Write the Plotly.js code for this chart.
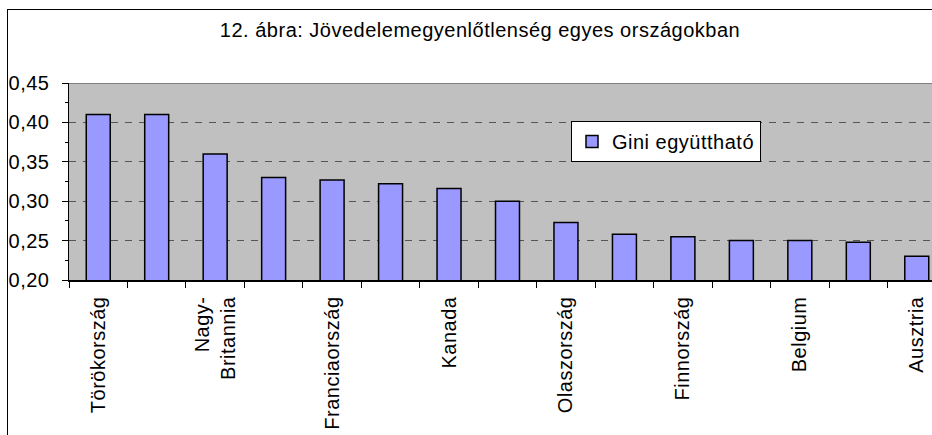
<!DOCTYPE html>
<html>
<head>
<meta charset="utf-8">
<script src="https://cdn.plot.ly/plotly-3.0.1.min.js"></script>
<style>
  html, body { margin: 0; padding: 0; background: #fff; overflow: hidden; width: 932px; height: 435px; }
  #chart { position: absolute; left: 0; top: 0; width: 950px; height: 435px; }
  #frame { position: absolute; left: 7px; top: 9px; width: 1000px; height: 1000px;
           border-left: 1px solid #000; border-top: 1.5px solid #000; pointer-events: none; }
  text { letter-spacing: 0.5px; }
</style>
</head>
<body>
<div id="chart"></div>
<div id="frame"></div>
<script>
// Data
const countryLabels = ['Törökország', '', 'Nagy-<br>Britannia', '', 'Franciaország', '', 'Kanada', '',
                       'Olaszország', '', 'Finnország', '', 'Belgium', '', 'Ausztria'];
const giniValues = [0.41, 0.41, 0.36, 0.33, 0.327, 0.322, 0.316, 0.30, 0.273, 0.258, 0.255, 0.25, 0.25, 0.248, 0.23];
const seriesName = 'Gini együttható';
const chartTitle = '12. ábra: Jövedelemegyenlőtlenség egyes országokban';

const xPos = giniValues.map((_, i) => i + 1);
const tickVals = [], tickText = [];
countryLabels.forEach((c, i) => { if (c) { tickVals.push(i + 1); tickText.push(c); } });

const FONT = 'Arial, "Liberation Sans", sans-serif';

const trace = {
  type: 'bar',
  x: xPos,
  y: giniValues,
  name: seriesName,
  showlegend: true,
  marker: { color: '#9999FF', line: { color: '#000000', width: 1.5 } },
  hoverinfo: 'skip'
};

const layout = {
  width: 950, height: 435,
  margin: { l: 69, r: 4, t: 83, b: 155 },
  paper_bgcolor: '#FFFFFF',
  plot_bgcolor: '#C0C0C0',
  separators: ', ',
  font: { family: FONT, size: 20, color: '#000' },
  title: {
    text: chartTitle,
    font: { family: FONT, size: 20, color: '#000' },
    x: 480 / 950, xref: 'container', xanchor: 'center',
    y: 1 - 30 / 435, yref: 'container', yanchor: 'middle'
  },
  bargap: 0.59,
  showlegend: true,
  legend: {
    x: (571 - 69) / 877, y: (280 - 121) / 197, xanchor: 'left', yanchor: 'top',
    bgcolor: '#FFFFFF', bordercolor: '#000000', borderwidth: 1,
    font: { family: FONT, size: 20, color: '#000' }
  },
  xaxis: {
    range: [0.5, giniValues.length + 0.5],
    tickmode: 'array', tickvals: tickVals, ticktext: tickText,
    tickangle: -90, ticks: '', ticklabelstandoff: 7,
    showline: true, linecolor: '#000', linewidth: 1.5,
    showgrid: false, zeroline: false,
    minor: { tickmode: 'linear', tick0: 0.5, dtick: 1, ticks: 'outside', ticklen: 6, tickcolor: '#000', tickwidth: 1, showgrid: false },
    tickfont: { family: FONT, size: 20, color: '#000' },
    fixedrange: true
  },
  yaxis: {
    range: [0.20, 0.45], dtick: 0.05, tick0: 0.20, tickformat: '.2f',
    ticks: 'outside', ticklen: 6, tickcolor: '#000', tickwidth: 1, ticklabelstandoff: 8,
    showline: true, linecolor: '#000', linewidth: 1.5,
    showgrid: true, gridcolor: '#555555', gridwidth: 1, griddash: '7px,7px',
    zeroline: false,
    minor: { dtick: 0.025, ticks: 'outside', ticklen: 3, tickcolor: '#000', showgrid: false },
    tickfont: { family: FONT, size: 20, color: '#000' },
    fixedrange: true
  },
  shapes: [{
    type: 'line', xref: 'paper', yref: 'y', x0: 0, x1: 1, y0: 0.45, y1: 0.45,
    line: { color: '#808080', width: 2 }, layer: 'above'
  }]
};

Plotly.newPlot('chart', [trace], layout, { displayModeBar: false, staticPlot: true });
</script>
</body>
</html>
